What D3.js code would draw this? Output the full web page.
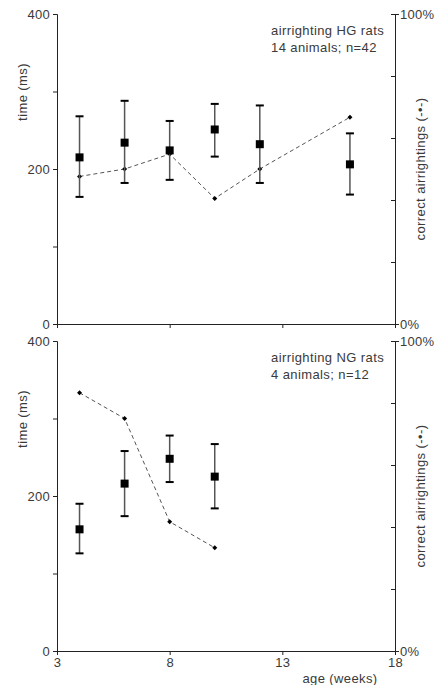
<!DOCTYPE html>
<html>
<head>
<meta charset="utf-8">
<script src="https://cdn.jsdelivr.net/npm/d3@7/dist/d3.min.js"></script>
<style>
  body { margin: 0; background: #fff; }
  svg { display: block; font-family: "Liberation Sans", Arial, sans-serif; }
  .axis path, .axis line { stroke: #222; }
  .axis text { fill: #3a3a3a; font-size: 13px; letter-spacing: 0.3px; }
  .lbl { fill: #3a3a3a; font-size: 13px; letter-spacing: 0.4px; }
</style>
</head>
<body>
<svg id="chart" width="438" height="685"></svg>
<script>
// ages (weeks)
const ageHG = [4, 6, 8, 10, 12, 16];
const ageNG = [4, 6, 8, 10];

// time (ms): mean and error bar ends
const timeHG   = [215, 234, 224, 251, 232, 206];
const timeHGLo = [164, 182, 186, 216, 182, 167];
const timeHGHi = [268, 288, 262, 284, 282, 246];
const timeNG   = [157, 216, 248, 225];
const timeNGLo = [126, 174, 218, 184];
const timeNGHi = [190, 258, 278, 267];

// correct airrightings (%)
const pctHG = [47.6, 50, 54.8, 40.5, 50, 66.7];
const pctNG = [83.3, 75, 41.7, 33.3];

const xTicks = [3, 8, 13, 18];
const timeTicks = [0, 100, 200, 300, 400];
const timeLabels = [0, 200, 400];
const pctTicks = [0, 20, 40, 60, 80, 100];

const panels = [
  { top: 14,  title: 'airrighting HG rats', sub: '14 animals; n=42',
    age: ageHG, t: timeHG, lo: timeHGLo, hi: timeHGHi, pct: pctHG, xlabels: false },
  { top: 341, title: 'airrighting NG rats', sub: '4 animals; n=12',
    age: ageNG, t: timeNG, lo: timeNGLo, hi: timeNGHi, pct: pctNG, xlabels: true }
];

const svg = d3.select('#chart');
const x = d3.scaleLinear().domain([3, 18]).range([57, 395]);

panels.forEach(p => {
  const y = d3.scaleLinear().domain([0, 400]).range([p.top + 310, p.top]);
  const yp = d3.scaleLinear().domain([0, 100]).range([p.top + 310, p.top]);
  const g = svg.append('g');

  // dashed percentage line
  g.append('path')
    .datum(p.age.map((a, i) => [a, p.pct[i]]))
    .attr('d', d3.line().x(d => x(d[0])).y(d => yp(d[1])))
    .attr('fill', 'none')
    .attr('stroke', '#555')
    .attr('stroke-width', 1)
    .attr('stroke-dasharray', '4,3');

  g.selectAll('.dia').data(p.age).enter().append('path')
    .attr('d', (a, i) => {
      const cx = x(a), cy = yp(p.pct[i]), s = 2.5;
      return `M${cx},${cy-s} L${cx+s},${cy} L${cx},${cy+s} L${cx-s},${cy} Z`;
    })
    .attr('fill', '#000');

  // error bars
  p.age.forEach((a, i) => {
    const cx = x(a);
    g.append('line')
      .attr('x1', cx).attr('x2', cx)
      .attr('y1', y(p.lo[i])).attr('y2', y(p.hi[i]))
      .attr('stroke', '#555').attr('stroke-width', 1.5);
    [p.lo[i], p.hi[i]].forEach(v => {
      g.append('line')
        .attr('x1', cx - 4).attr('x2', cx + 4)
        .attr('y1', y(v)).attr('y2', y(v))
        .attr('stroke', '#000').attr('stroke-width', 2);
    });
    g.append('rect')
      .attr('x', cx - 4).attr('y', y(p.t[i]) - 4)
      .attr('width', 8).attr('height', 8)
      .attr('fill', '#000');
  });

  // axes
  g.append('g').attr('class', 'axis')
    .attr('transform', `translate(57,0)`)
    .call(d3.axisLeft(y).tickValues(timeTicks).tickSize(4).tickPadding(3)
      .tickFormat(d => timeLabels.includes(d) ? d : ''));

  const ra = g.append('g').attr('class', 'axis')
    .attr('transform', `translate(395,0)`)
    .call(d3.axisRight(yp).tickValues(pctTicks).tickSize(-4).tickPadding(4)
      .tickFormat(d => (d === 0 || d === 100) ? d + '%' : ''));
  ra.selectAll('.tick').filter(d => d === 0 || d === 100).select('line').attr('x2', 4);
  ra.selectAll('.tick text').attr('x', 5);

  g.append('g').attr('class', 'axis')
    .attr('transform', `translate(0,${p.top + 310})`)
    .call(d3.axisBottom(x).tickValues(xTicks).tickSize(4).tickPadding(3)
      .tickFormat(d => p.xlabels ? d : ''));

  g.selectAll('.axis .domain').attr('stroke', '#222');

  // axis titles
  g.append('text').attr('class', 'lbl')
    .attr('transform', `translate(27,${p.top + 78}) rotate(-90)`)
    .attr('text-anchor', 'middle')
    .text('time (ms)');

  g.append('text').attr('class', 'lbl')
    .attr('transform', `translate(425,${p.top + 155}) rotate(-90)`)
    .attr('text-anchor', 'middle')
    .text('correct airrightings (-•-)');

  // annotation
  g.append('text').attr('class', 'lbl')
    .attr('x', 271).attr('y', p.top + 21)
    .text(p.title);
  g.append('text').attr('class', 'lbl')
    .attr('x', 271).attr('y', p.top + 38)
    .text(p.sub);
});

svg.append('text').attr('class', 'lbl')
  .attr('x', 340).attr('y', 683)
  .attr('text-anchor', 'middle')
  .text('age (weeks)');
</script>
</body>
</html>
